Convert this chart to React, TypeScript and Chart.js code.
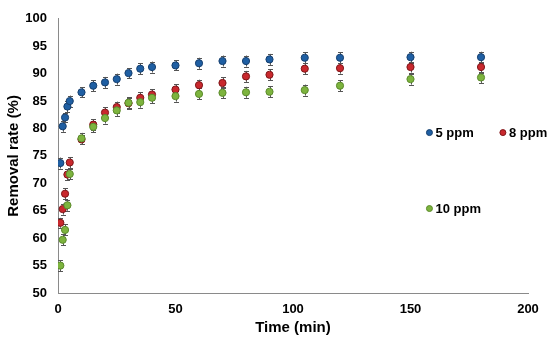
import React, { useEffect, useRef } from "react";
import { Chart, registerables } from "chart.js";

Chart.register(...registerables);

const times = [1, 2, 3, 4, 5, 10, 15, 20, 25, 30, 35, 40, 50, 60, 70, 80, 90, 105, 120, 150, 180];

const ppm5 = [73.7, 80.4, 82.0, 84.0, 85.0, 86.6, 87.8, 88.4, 89.0, 90.1, 90.9, 91.2, 91.5, 91.9, 92.3, 92.3, 92.6, 92.9, 92.9, 93.0, 93.0];
const ppm8 = [62.8, 65.3, 68.1, 71.6, 73.8, 78.0, 80.7, 82.9, 83.9, 84.6, 85.6, 86.2, 87.1, 87.9, 88.3, 89.5, 89.8, 90.9, 91.0, 91.2, 91.2];
const ppm10 = [55.0, 59.7, 61.5, 66.0, 71.7, 78.2, 80.3, 81.9, 83.3, 84.7, 84.8, 85.6, 85.9, 86.3, 86.5, 86.6, 86.7, 87.0, 87.8, 89.0, 89.3];

const err5 = [1.0, 1.0, 0.9, 1.0, 1.0, 0.9, 1.0, 1.0, 1.0, 0.9, 1.0, 1.0, 0.9, 1.0, 1.0, 1.0, 1.0, 1.0, 1.0, 1.0, 1.0];
const err8 = [0.9, 1.0, 1.0, 1.0, 1.0, 0.9, 1.0, 1.0, 1.0, 1.0, 1.0, 1.0, 1.0, 1.0, 1.0, 1.0, 1.0, 1.0, 1.0, 1.0, 1.0];
const err10 = [1.0, 1.0, 1.0, 1.0, 1.0, 1.0, 1.0, 1.0, 1.0, 1.0, 1.0, 1.0, 1.0, 1.0, 1.0, 1.0, 1.0, 1.0, 1.0, 1.0, 1.0];

const seriesNames = ["5 ppm", "8 ppm", "10 ppm"];
const xTicks = [0, 50, 100, 150, 200];
const yTicks = [50, 55, 60, 65, 70, 75, 80, 85, 90, 95, 100];

const FONT = "'Liberation Sans', Arial, sans-serif";

const errorBarPlugin = {
  id: "errorBars",
  beforeDatasetsDraw(chart: any) {
    const ctx = chart.ctx;
    const xs = chart.scales.x;
    const ys = chart.scales.y;
    const metas = chart.getSortedVisibleDatasetMetas().slice().reverse();
    ctx.save();
    ctx.strokeStyle = "#555555";
    ctx.lineWidth = 1;
    metas.forEach((meta: any) => {
      const ds = chart.data.datasets[meta.index] as any;
      ds.data.forEach((p: any, i: number) => {
        const e = ds.errors[i];
        const x = Math.round(xs.getPixelForValue(p.x)) + 0.5;
        const y1 = ys.getPixelForValue(p.y + e);
        const y2 = ys.getPixelForValue(p.y - e);
        ctx.beginPath();
        ctx.moveTo(x, y1);
        ctx.lineTo(x, y2);
        ctx.moveTo(x - 2.5, Math.round(y1) + 0.5);
        ctx.lineTo(x + 2.5, Math.round(y1) + 0.5);
        ctx.moveTo(x - 2.5, Math.round(y2) + 0.5);
        ctx.lineTo(x + 2.5, Math.round(y2) + 0.5);
        ctx.stroke();
      });
    });
    ctx.restore();
  },
};

const customLegendPlugin = {
  id: "customLegend",
  afterDraw(chart: any) {
    const ctx = chart.ctx;
    const a = chart.chartArea;
    const w = a.right - a.left;
    const h = a.bottom - a.top;
    // legend entries placed inside the plot area like the Excel legend
    const entries = [
      { fx: 0.7903, fy: 0.415, i: 0 },
      { fx: 0.9466, fy: 0.415, i: 1 },
      { fx: 0.7903, fy: 0.692, i: 2 },
    ];
    ctx.save();
    ctx.font = `bold 13px ${FONT}`;
    ctx.textBaseline = "middle";
    ctx.textAlign = "left";
    entries.forEach((en) => {
      const ds = chart.data.datasets[en.i] as any;
      const x = a.left + en.fx * w;
      const y = a.top + en.fy * h;
      ctx.beginPath();
      ctx.arc(x, y, 3, 0, Math.PI * 2);
      ctx.fillStyle = ds.backgroundColor;
      ctx.fill();
      ctx.lineWidth = 1;
      ctx.strokeStyle = ds.borderColor;
      ctx.stroke();
      ctx.fillStyle = "#000000";
      ctx.fillText(ds.label, x + 6, y + 0.5);
    });
    ctx.restore();
  },
};

export default function App() {
  const ref = useRef<HTMLCanvasElement | null>(null);

  useEffect(() => {
    document.body.style.margin = "0";
    const canvas = ref.current;
    if (!canvas) return;
    const mk = (xs: number[], ys: number[]) => xs.map((t, i) => ({ x: t, y: ys[i] }));
    const chart = new Chart(canvas, {
      type: "scatter",
      data: {
        datasets: [
          {
            label: seriesNames[0],
            data: mk(times, ppm5),
            errors: err5,
            backgroundColor: "#1f5fa3",
            borderColor: "#163f6e",
            pointRadius: 3.6,
            pointBorderWidth: 1,
            order: 2,
          } as any,
          {
            label: seriesNames[1],
            data: mk(times, ppm8),
            errors: err8,
            backgroundColor: "#c9282d",
            borderColor: "#7e1518",
            pointRadius: 3.6,
            pointBorderWidth: 1,
            order: 1,
          } as any,
          {
            label: seriesNames[2],
            data: mk(times, ppm10),
            errors: err10,
            backgroundColor: "#7db43e",
            borderColor: "#5b8a2b",
            pointRadius: 3.6,
            pointBorderWidth: 1,
            order: 0,
          } as any,
        ],
      },
      options: {
        responsive: false,
        animation: false,
        events: [],
        layout: { padding: { top: 14, right: 22, left: 0, bottom: 0 } },
        plugins: { legend: { display: false }, tooltip: { enabled: false } },
        scales: {
          x: {
            type: "linear",
            min: 0,
            max: 200,
            afterBuildTicks: (s: any) => {
              s.ticks = xTicks.map((v) => ({ value: v }));
            },
            afterFit: (s: any) => {
              s.height = 51;
            },
            grid: { display: false, drawTicks: false, tickLength: 0 },
            border: { display: true, color: "#8a8a8a", width: 1 },
            ticks: {
              padding: 9,
              color: "#000000",
              font: { family: FONT, size: 13, weight: "bold" },
              maxRotation: 0,
            },
            title: {
              display: true,
              text: "Time (min)",
              color: "#000000",
              font: { family: FONT, size: 15, weight: "bold" },
              padding: { top: 0, bottom: 7 },
            },
          },
          y: {
            type: "linear",
            min: 50,
            max: 100,
            afterBuildTicks: (s: any) => {
              s.ticks = yTicks.map((v) => ({ value: v }));
            },
            afterFit: (s: any) => {
              s.width = 58;
            },
            grid: { display: false, drawTicks: false, tickLength: 0 },
            border: { display: true, color: "#8a8a8a", width: 1 },
            ticks: {
              padding: 11,
              color: "#000000",
              font: { family: FONT, size: 13, weight: "bold" },
            },
            title: {
              display: true,
              text: "Removal rate (%)",
              color: "#000000",
              font: { family: FONT, size: 15, weight: "bold" },
              padding: { top: 5, bottom: 0 },
            },
          },
        },
      } as any,
      plugins: [errorBarPlugin, customLegendPlugin],
    });
    return () => chart.destroy();
  }, []);

  return <canvas ref={ref} width={550} height={344} style={{ display: "block" }} />;
}
